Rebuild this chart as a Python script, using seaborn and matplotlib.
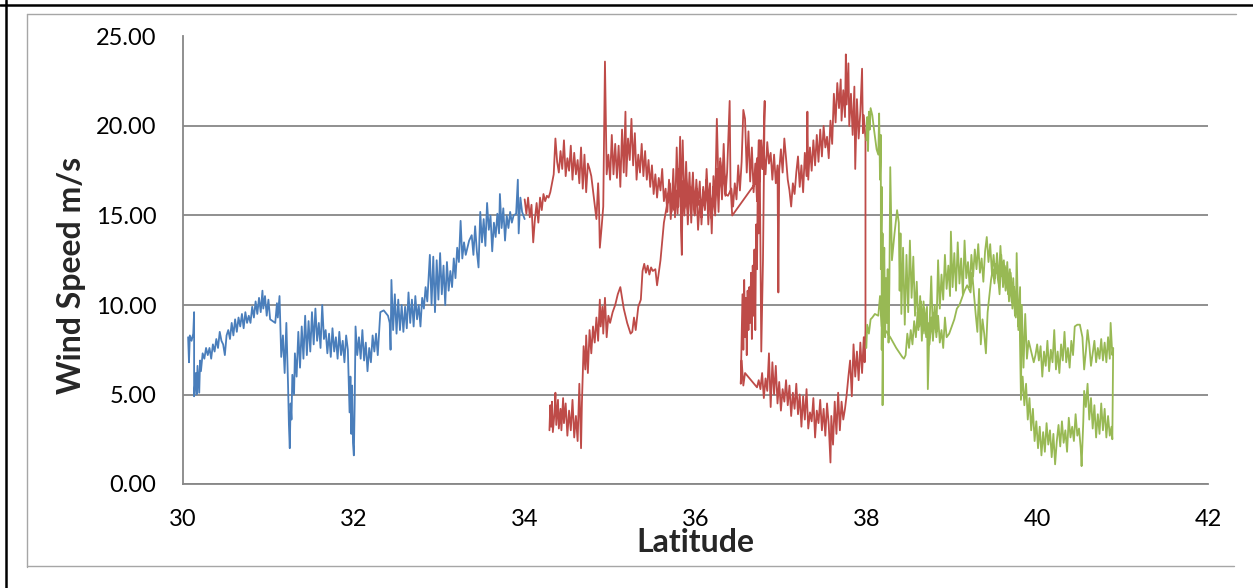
import matplotlib
matplotlib.use("Agg")
import matplotlib.pyplot as plt
import seaborn as sns
import pandas as pd
from matplotlib.lines import Line2D
from matplotlib.ticker import FormatStrFormatter

# ---------------- data (latitude, wind speed m/s), in track order ----------------
blue_track = [
    (30.06, 8.2), (30.07, 6.8), (30.08, 8.3), (30.10, 8.0), (30.12, 8.4), (30.13, 9.6), (30.13, 4.9),
    (30.15, 6.2), (30.16, 5.0), (30.17, 6.6), (30.19, 5.1), (30.20, 6.9), (30.21, 6.3), (30.23, 7.3),
    (30.25, 7.0), (30.27, 7.6), (30.29, 7.2), (30.31, 7.6), (30.33, 7.0), (30.35, 7.8), (30.37, 7.4),
    (30.39, 8.1), (30.41, 7.6), (30.43, 8.5), (30.45, 8.0), (30.47, 7.8), (30.49, 7.2), (30.51, 8.3),
    (30.53, 8.6), (30.55, 8.1), (30.57, 9.0), (30.59, 8.3), (30.61, 9.2), (30.63, 8.5), (30.65, 9.3),
    (30.67, 8.8), (30.69, 9.5), (30.71, 8.7), (30.73, 9.6), (30.75, 9.0), (30.77, 9.4), (30.79, 9.0),
    (30.81, 9.9), (30.83, 9.3), (30.85, 10.2), (30.87, 9.5), (30.89, 10.4), (30.91, 9.6), (30.93, 10.8),
    (30.94, 9.8), (30.96, 10.5), (30.98, 9.4), (31.00, 10.3), (31.02, 9.2), (31.05, 9.1), (31.08, 9.0),
    (31.10, 10.1), (31.11, 9.3), (31.13, 10.5), (31.15, 7.1), (31.17, 8.3), (31.19, 6.2), (31.21, 9.0),
    (31.23, 5.5), (31.24, 3.3), (31.25, 2.0), (31.26, 4.5), (31.27, 3.6), (31.28, 6.1), (31.30, 5.0),
    (31.31, 7.3), (31.33, 6.0), (31.35, 8.5), (31.37, 6.5), (31.39, 8.8), (31.41, 7.0), (31.43, 9.4),
    (31.45, 7.2), (31.47, 9.1), (31.49, 7.4), (31.51, 9.6), (31.53, 7.8), (31.55, 9.8), (31.57, 8.0),
    (31.59, 9.0), (31.61, 7.6), (31.63, 10.0), (31.65, 8.1), (31.67, 8.6), (31.69, 7.3), (31.71, 8.4),
    (31.73, 7.1), (31.75, 8.7), (31.77, 7.4), (31.79, 8.2), (31.81, 7.0), (31.83, 8.5), (31.85, 7.2),
    (31.87, 8.0), (31.89, 6.8), (31.91, 8.3), (31.93, 7.5), (31.95, 4.0), (31.96, 6.0), (31.97, 2.8),
    (31.98, 5.5), (31.99, 2.3), (32.00, 1.6), (32.01, 4.5), (32.02, 8.8), (32.04, 7.2), (32.06, 8.2),
    (32.08, 7.0), (32.10, 8.6), (32.12, 6.9), (32.14, 7.9), (32.16, 6.3), (32.18, 7.6), (32.20, 6.8),
    (32.22, 8.3), (32.24, 7.4), (32.26, 8.4), (32.28, 7.2), (32.31, 9.6), (32.35, 9.7), (32.40, 9.4),
    (32.42, 9.0), (32.43, 7.5), (32.44, 11.4), (32.46, 8.6), (32.48, 10.6), (32.50, 8.4), (32.52, 10.3),
    (32.54, 8.6), (32.56, 10.0), (32.58, 8.5), (32.60, 9.9), (32.62, 8.7), (32.64, 10.7), (32.66, 9.0),
    (32.68, 10.3), (32.70, 8.8), (32.72, 10.5), (32.74, 9.2), (32.76, 10.0), (32.78, 8.8), (32.80, 10.4),
    (32.82, 9.8), (32.84, 11.0), (32.86, 10.2), (32.89, 12.8), (32.91, 10.0), (32.93, 12.7), (32.95, 9.6),
    (32.97, 12.5), (32.99, 10.3), (33.01, 12.9), (33.03, 10.6), (33.05, 12.2), (33.07, 10.0), (33.09, 12.4),
    (33.11, 10.8), (33.13, 11.9), (33.15, 11.0), (33.17, 12.6), (33.19, 11.5), (33.21, 13.2), (33.23, 12.4),
    (33.25, 14.7), (33.27, 12.6), (33.29, 13.5), (33.31, 12.8), (33.35, 13.6), (33.38, 13.9), (33.40, 12.8),
    (33.42, 14.4), (33.44, 13.0), (33.46, 12.1), (33.48, 15.2), (33.50, 13.5), (33.52, 14.8), (33.54, 13.3),
    (33.56, 15.7), (33.58, 14.2), (33.60, 15.0), (33.62, 13.0), (33.64, 14.6), (33.66, 13.8), (33.68, 15.1),
    (33.70, 14.0), (33.71, 16.2), (33.73, 14.3), (33.75, 15.4), (33.77, 13.6), (33.79, 15.0), (33.81, 14.3),
    (33.83, 15.2), (33.85, 14.6), (33.87, 15.0), (33.90, 15.1), (33.92, 17.0), (33.93, 14.0), (33.95, 16.0),
    (33.97, 15.2), (34.00, 14.8),
]

red_rise = [
    (34.29, 3.0), (34.30, 4.4), (34.31, 3.2), (34.32, 4.6), (34.33, 2.9), (34.35, 4.0), (34.36, 5.1),
    (34.37, 3.3), (34.39, 4.7), (34.40, 3.1), (34.42, 4.2), (34.43, 3.0), (34.45, 4.8), (34.46, 3.4),
    (34.48, 4.5), (34.50, 2.7), (34.52, 4.1), (34.54, 3.0), (34.56, 4.7), (34.58, 2.6), (34.60, 3.8),
    (34.62, 2.4), (34.64, 5.6), (34.66, 2.0), (34.67, 4.5), (34.69, 7.7), (34.71, 6.4), (34.72, 8.3),
    (34.74, 6.2), (34.76, 8.6), (34.78, 7.3), (34.80, 8.8), (34.82, 7.9), (34.84, 9.3), (34.86, 8.0),
    (34.88, 10.3), (34.89, 8.8), (34.91, 9.9), (34.92, 8.4), (34.94, 10.4), (34.96, 8.2), (34.98, 9.4),
    (35.00, 9.0), (35.03, 9.6), (35.06, 10.0), (35.09, 10.6), (35.12, 11.0), (35.16, 9.8), (35.20, 9.0),
    (35.24, 8.4), (35.26, 8.5), (35.28, 9.3), (35.30, 8.6), (35.33, 9.9), (35.36, 10.3), (35.38, 11.9),
    (35.40, 12.3), (35.42, 11.8), (35.44, 12.2), (35.46, 11.7), (35.48, 12.1), (35.50, 11.9), (35.53, 12.0),
    (35.55, 11.1), (35.59, 12.5), (35.63, 14.6), (35.67, 15.7),
]

red_band_north = [
    (35.70, 16.8), (35.72, 15.2), (35.74, 17.6), (35.76, 14.9), (35.78, 18.8), (35.80, 15.5), (35.82, 19.4),
    (35.83, 14.2), (35.84, 12.8), (35.85, 16.9), (35.87, 15.0), (35.89, 18.0), (35.91, 15.3), (35.93, 17.4),
    (35.95, 14.6), (35.97, 16.8), (35.99, 15.1), (36.01, 17.0), (36.03, 15.6), (36.05, 16.9), (36.07, 14.5),
    (36.09, 16.4), (36.11, 15.4), (36.13, 17.6), (36.15, 15.7), (36.17, 16.8), (36.19, 14.0), (36.21, 17.2),
    (36.23, 15.8), (36.25, 20.4), (36.27, 16.5), (36.29, 18.0), (36.31, 15.9), (36.33, 17.8), (36.35, 16.1),
    (36.37, 17.4), (36.40, 21.4), (36.41, 16.6), (36.43, 15.0), (36.70, 16.8), (36.72, 18.2), (36.74, 17.0),
    (36.76, 19.0), (36.78, 17.6), (36.80, 18.6), (36.82, 17.3), (36.84, 19.1), (36.86, 17.9), (36.88, 18.5),
    (36.90, 17.0), (36.92, 18.4), (36.94, 16.8), (36.96, 17.8), (36.97, 10.7), (36.98, 17.5), (37.00, 18.7),
    (37.02, 17.4), (37.04, 19.3), (37.06, 18.2), (37.08, 17.0), (37.10, 16.4), (37.12, 15.5), (37.14, 16.8),
    (37.16, 16.2), (37.18, 17.4), (37.20, 18.3), (37.22, 16.6), (37.24, 17.8), (37.26, 16.3), (37.28, 18.5),
    (37.30, 17.2), (37.31, 20.8), (37.32, 17.0), (37.34, 18.8), (37.36, 17.5), (37.38, 19.2), (37.40, 17.8),
    (37.42, 19.5), (37.44, 18.0), (37.46, 19.8), (37.48, 18.3), (37.50, 20.0), (37.52, 18.8), (37.54, 19.4),
    (37.56, 18.2), (37.58, 20.3), (37.60, 19.0), (37.62, 21.8), (37.64, 20.2), (37.66, 22.4), (37.68, 21.0),
    (37.70, 22.6), (37.71, 20.3), (37.73, 22.0), (37.75, 20.5), (37.76, 24.0), (37.77, 21.2), (37.79, 23.5),
    (37.80, 20.0), (37.82, 21.8), (37.84, 19.5), (37.86, 22.2), (37.87, 17.6), (37.89, 21.5), (37.91, 19.3),
    (37.93, 20.8), (37.95, 23.2), (37.96, 19.6), (37.97, 20.6), (37.99, 19.3),
]

red_low_south = [
    (37.99, 8.6), (37.98, 6.8), (37.97, 8.2), (37.95, 6.2), (37.93, 7.9), (37.91, 5.8), (37.89, 7.4),
    (37.87, 6.0), (37.85, 7.8), (37.83, 4.9), (37.81, 6.9), (37.79, 6.0), (37.77, 5.0), (37.75, 4.2),
    (37.73, 3.6), (37.71, 4.6), (37.69, 3.0), (37.67, 5.1), (37.65, 2.8), (37.63, 4.6), (37.61, 2.2),
    (37.59, 3.8), (37.58, 1.2), (37.56, 3.3), (37.54, 4.5), (37.52, 2.7), (37.50, 4.2), (37.48, 3.0),
    (37.46, 4.7), (37.44, 3.4), (37.42, 4.1), (37.40, 2.6), (37.38, 4.8), (37.36, 3.5), (37.34, 4.0),
    (37.32, 3.1), (37.30, 5.3), (37.28, 3.6), (37.26, 4.9), (37.24, 3.2), (37.22, 5.0), (37.20, 3.9),
    (37.18, 5.6), (37.16, 4.2), (37.14, 5.1), (37.12, 3.8), (37.10, 5.5), (37.08, 4.4), (37.06, 5.8),
    (37.04, 4.6), (37.02, 5.3), (37.00, 4.1), (36.98, 5.7), (36.96, 4.5), (36.94, 6.6), (36.92, 5.0),
    (36.90, 6.8), (36.88, 4.3), (36.86, 7.3), (36.84, 5.2), (36.82, 5.9), (36.80, 4.8), (36.78, 6.2),
    (36.76, 5.3), (36.74, 5.8), (36.72, 5.4), (36.58, 6.2), (36.56, 5.5), (36.54, 6.9), (36.53, 5.6),
]

red_climb = [
    (36.54, 8.0), (36.55, 10.6), (36.56, 7.5), (36.57, 11.4), (36.58, 8.2), (36.59, 10.4), (36.60, 7.2),
    (36.61, 10.8), (36.62, 8.6), (36.63, 11.0), (36.64, 9.0), (36.65, 11.8), (36.66, 8.1), (36.67, 12.2),
    (36.68, 9.4), (36.69, 13.1), (36.70, 8.6), (36.71, 14.5), (36.72, 12.0), (36.73, 17.4), (36.74, 14.0),
    (36.75, 19.2), (36.77, 7.4), (36.79, 12.5), (36.81, 21.4),
]

red_band_south = [
    (36.79, 17.6), (36.77, 19.2), (36.75, 16.9), (36.74, 19.2), (36.72, 15.8), (36.70, 17.9), (36.68, 16.3),
    (36.66, 18.8), (36.64, 16.9), (36.62, 19.7), (36.60, 17.4), (36.58, 20.4), (36.56, 20.9), (36.54, 18.0),
    (36.52, 16.4), (36.50, 17.8), (36.48, 15.9), (36.46, 16.8), (36.44, 15.5), (36.42, 16.5), (36.38, 16.1),
    (36.35, 16.2), (36.33, 19.0), (36.31, 16.4), (36.29, 18.2), (36.27, 15.2), (36.25, 17.6), (36.23, 15.0),
    (36.21, 16.6), (36.19, 14.8), (36.17, 16.3), (36.15, 14.5), (36.13, 17.0), (36.11, 15.3), (36.09, 16.6),
    (36.07, 14.9), (36.05, 15.8), (36.03, 14.2), (36.01, 16.5), (35.99, 15.0), (35.97, 17.4), (35.95, 15.8),
    (35.93, 16.6), (35.91, 14.5), (35.89, 17.1), (35.87, 15.4), (35.85, 19.2), (35.83, 15.9), (35.81, 17.6),
    (35.79, 15.1), (35.77, 16.4), (35.75, 15.3), (35.73, 16.2), (35.71, 14.8), (35.69, 17.0), (35.67, 15.2),
    (35.65, 16.5), (35.63, 15.8), (35.61, 17.6), (35.59, 16.4), (35.57, 17.1), (35.55, 16.0), (35.53, 17.3),
    (35.51, 16.2), (35.49, 17.8), (35.47, 16.6), (35.45, 18.1), (35.43, 17.0), (35.41, 18.6), (35.39, 17.2),
    (35.37, 19.0), (35.35, 17.4), (35.33, 18.4), (35.31, 17.0), (35.29, 19.6), (35.27, 17.8), (35.25, 20.4),
    (35.23, 18.1), (35.21, 19.3), (35.19, 17.2), (35.18, 20.8), (35.16, 17.4), (35.14, 19.8), (35.12, 16.6),
    (35.10, 18.9), (35.08, 17.1), (35.06, 19.0), (35.04, 17.3), (35.02, 19.5), (35.00, 17.0), (34.98, 18.4),
    (34.96, 17.3), (34.94, 23.6), (34.92, 15.5), (34.90, 14.3), (34.88, 13.2), (34.87, 15.6), (34.86, 16.8),
    (34.84, 14.8), (34.82, 15.6), (34.80, 16.4), (34.78, 17.2), (34.76, 17.6), (34.74, 17.9), (34.72, 16.3),
    (34.70, 18.4), (34.68, 16.5), (34.66, 18.8), (34.64, 16.8), (34.62, 18.1), (34.60, 17.3), (34.58, 18.5),
    (34.56, 17.0), (34.54, 18.9), (34.52, 17.5), (34.50, 18.2), (34.48, 17.2), (34.46, 19.2), (34.44, 17.6),
    (34.42, 18.6), (34.40, 17.4), (34.38, 18.0), (34.36, 19.3), (34.34, 17.3), (34.32, 16.8), (34.30, 16.3),
    (34.28, 16.0), (34.26, 16.1), (34.24, 15.8), (34.22, 16.2), (34.20, 15.3), (34.18, 16.0), (34.16, 14.6),
    (34.14, 15.7), (34.12, 14.8), (34.10, 13.5), (34.08, 15.6), (34.06, 14.9), (34.04, 16.0), (34.02, 15.1),
    (34.00, 15.9),
]

green_north = [
    (38.00, 19.2), (38.01, 20.5), (38.02, 18.6), (38.03, 20.8), (38.04, 19.8), (38.05, 21.0), (38.07, 20.6),
    (38.09, 19.8), (38.12, 18.7), (38.14, 18.4), (38.15, 20.7), (38.16, 17.0), (38.17, 19.5), (38.17, 12.0),
    (38.18, 16.6), (38.18, 7.5), (38.19, 14.0), (38.19, 4.4), (38.20, 10.5), (38.21, 13.2), (38.22, 8.2),
    (38.23, 11.5), (38.24, 9.0), (38.25, 12.0), (38.26, 7.9), (38.27, 11.2), (38.28, 17.7), (38.30, 12.5),
    (38.33, 14.0), (38.36, 15.3), (38.38, 14.6), (38.39, 10.8), (38.40, 14.0), (38.41, 9.5), (38.43, 13.2),
    (38.45, 8.9), (38.47, 12.8), (38.49, 9.6), (38.51, 13.6), (38.53, 10.4), (38.55, 12.7), (38.57, 9.4),
    (38.59, 11.3), (38.61, 8.6), (38.63, 10.5), (38.65, 8.0), (38.67, 10.2), (38.69, 8.4), (38.71, 9.9),
    (38.72, 5.3), (38.74, 8.9), (38.76, 11.6), (38.78, 8.2), (38.80, 10.0), (38.82, 8.5), (38.84, 12.5),
    (38.86, 9.8), (38.88, 11.7), (38.90, 10.3), (38.92, 12.8), (38.94, 10.9), (38.96, 12.2), (38.98, 10.5),
    (38.99, 14.1), (39.01, 11.0), (39.03, 12.9), (39.05, 10.8), (39.07, 13.5), (39.09, 11.2), (39.11, 12.6),
    (39.13, 10.6), (39.15, 13.6), (39.17, 11.5), (39.19, 12.4), (39.21, 11.0), (39.23, 12.8), (39.25, 11.6),
    (39.27, 13.1), (39.29, 12.0), (39.31, 13.4), (39.33, 11.8), (39.35, 12.6), (39.37, 11.3), (39.39, 13.0),
    (39.41, 13.8), (39.43, 12.4), (39.45, 13.4), (39.47, 11.8), (39.49, 12.8), (39.51, 11.5), (39.53, 12.9),
    (39.55, 11.2), (39.57, 13.3), (39.59, 11.6), (39.61, 12.5), (39.63, 10.8), (39.65, 12.4), (39.67, 10.2),
    (39.69, 11.8), (39.71, 9.8), (39.73, 11.0), (39.75, 9.3), (39.76, 12.9), (39.78, 8.6), (39.80, 9.8),
    (39.81, 4.7), (39.83, 6.0), (39.85, 4.4), (39.87, 5.6), (39.89, 3.6), (39.91, 4.8), (39.93, 3.0),
    (39.95, 4.2), (39.97, 2.4), (39.99, 3.5), (40.01, 2.0), (40.03, 3.2), (40.05, 1.6), (40.07, 2.9),
    (40.09, 1.8), (40.11, 3.4), (40.13, 2.2), (40.15, 3.0), (40.17, 1.5), (40.19, 2.8), (40.21, 1.1),
    (40.23, 2.4), (40.25, 3.3), (40.27, 2.1), (40.29, 3.5), (40.31, 2.3), (40.33, 3.0), (40.35, 1.8),
    (40.37, 3.7), (40.39, 2.6), (40.41, 3.2), (40.43, 2.4), (40.45, 3.9), (40.47, 2.7), (40.49, 3.1),
    (40.51, 2.0), (40.52, 1.0), (40.54, 3.5), (40.55, 5.2), (40.57, 4.3), (40.59, 5.6), (40.61, 3.6),
    (40.63, 4.8), (40.65, 3.1), (40.67, 4.4), (40.69, 2.6), (40.71, 3.9), (40.73, 2.8), (40.75, 4.5),
    (40.77, 3.0), (40.79, 4.2), (40.81, 2.6), (40.83, 3.8), (40.85, 2.7), (40.87, 3.2), (40.88, 2.5),
    (40.89, 7.6),
]

green_south = [
    (40.88, 7.2), (40.86, 9.0), (40.85, 7.0), (40.83, 8.2), (40.81, 6.8), (40.79, 7.9), (40.77, 6.9),
    (40.75, 8.1), (40.73, 7.0), (40.71, 7.6), (40.69, 6.8), (40.67, 8.0), (40.65, 7.3), (40.63, 6.6),
    (40.61, 7.8), (40.59, 8.6), (40.57, 7.4), (40.55, 6.4), (40.53, 8.2), (40.50, 8.9), (40.47, 8.9),
    (40.44, 8.8), (40.42, 7.2), (40.40, 8.0), (40.38, 6.5), (40.36, 7.6), (40.34, 6.8), (40.32, 8.5),
    (40.30, 6.9), (40.28, 7.8), (40.26, 6.2), (40.24, 7.4), (40.22, 6.4), (40.20, 8.6), (40.18, 6.8),
    (40.16, 7.5), (40.14, 6.3), (40.12, 8.0), (40.10, 6.6), (40.08, 7.4), (40.06, 6.0), (40.04, 7.7),
    (40.02, 6.9), (40.00, 7.8), (39.98, 7.2), (39.96, 6.8), (39.93, 7.4), (39.90, 8.0), (39.88, 7.0),
    (39.86, 9.5), (39.84, 6.5), (39.82, 10.0), (39.81, 4.8), (39.80, 11.0), (39.78, 8.8), (39.76, 10.5),
    (39.74, 9.4), (39.72, 11.5), (39.70, 10.2), (39.68, 12.0), (39.66, 10.6), (39.64, 11.6), (39.62, 12.2),
    (39.60, 11.0), (39.58, 12.8), (39.56, 10.6), (39.54, 11.7), (39.52, 12.3), (39.50, 11.2), (39.48, 12.0),
    (39.46, 11.4), (39.44, 10.5), (39.42, 9.6), (39.40, 7.3), (39.38, 8.4), (39.36, 9.2), (39.34, 7.8),
    (39.32, 10.9), (39.30, 8.5), (39.28, 9.5), (39.26, 10.6), (39.24, 11.8), (39.22, 10.7), (39.18, 11.1),
    (39.15, 10.8), (39.12, 10.4), (39.09, 10.0), (39.06, 9.8), (39.03, 9.2), (39.00, 8.8), (38.97, 8.4),
    (38.94, 8.2), (38.92, 9.3), (38.90, 7.6), (38.88, 8.6), (38.86, 7.9), (38.84, 9.4), (38.82, 8.2),
    (38.80, 9.6), (38.78, 8.0), (38.76, 9.3), (38.74, 7.8), (38.72, 9.0), (38.70, 8.2), (38.68, 9.8),
    (38.66, 8.4), (38.64, 10.2), (38.62, 8.8), (38.60, 9.6), (38.58, 8.2), (38.56, 9.1), (38.54, 7.8),
    (38.52, 8.6), (38.50, 7.6), (38.48, 8.4), (38.46, 7.2), (38.44, 7.0), (38.42, 7.1), (38.35, 7.6),
    (38.28, 8.2), (38.22, 8.6), (38.20, 9.9), (38.18, 8.8), (38.16, 10.5), (38.14, 9.4), (38.10, 9.5),
    (38.07, 9.3), (38.05, 9.2), (38.03, 8.4), (38.01, 8.9), (38.00, 7.6),
]

x_ticks = [30, 32, 34, 36, 38, 40, 42]
y_ticks = [0, 5, 10, 15, 20, 25]
x_label = "Latitude"
y_label = "Wind Speed m/s"

# ---------------- build long table ----------------
series_tracks = [
    ("Blue", [blue_track]),
    ("Red", [red_rise, red_band_north, red_low_south, red_climb, red_band_south]),
    ("Green", [green_north, green_south]),
]
rows = []
for name, parts in series_tracks:
    order = 0
    for part in parts:
        for lat, ws in part:
            rows.append({"series": name, "lat": lat, "ws": ws, "order": order})
            order += 1
df = pd.DataFrame(rows)

palette = {"Blue": "#4A7EBB", "Red": "#BE4B48", "Green": "#98B954"}

# ---------------- figure ----------------
sns.set_style("white")
plt.rcParams["font.family"] = ["Lato", "DejaVu Sans"]

W, H = 1253, 588
fig = plt.figure(figsize=(W / 100, H / 100), dpi=100)
ax = fig.add_axes([183 / W, 1 - 484 / H, 1025 / W, 447.5 / H])

sns.lineplot(data=df, x="lat", y="ws", hue="series", palette=palette,
             sort=False, estimator=None, legend=False, linewidth=1.3, ax=ax)

grid_c = "#878787"
ax.set_xlim(30, 42)
ax.set_ylim(0, 25)
ax.set_xticks(x_ticks)
ax.set_yticks(y_ticks)
ax.yaxis.set_major_formatter(FormatStrFormatter("%.2f"))
ax.yaxis.grid(True, color=grid_c, linewidth=1.3)
ax.xaxis.grid(False)
ax.set_axisbelow(True)
for s in ["top", "right"]:
    ax.spines[s].set_visible(False)
for s in ["left", "bottom"]:
    ax.spines[s].set_color(grid_c)
    ax.spines[s].set_linewidth(1.3)
ax.tick_params(axis="both", direction="out", length=7, width=1.3, color=grid_c,
               labelsize=17, labelcolor="black")
ax.tick_params(axis="y", pad=12)
ax.tick_params(axis="x", pad=11)

ax.set_xlabel(x_label, fontsize=23, fontweight="bold")
ax.set_ylabel(y_label, fontsize=23, fontweight="bold")
ax.xaxis.set_label_coords(0.5, -0.098)
ax.yaxis.set_label_coords(-0.095, 0.467)

# chart-area frame (gray) and outer border (black)
def fline(x0, y0, x1, y1, c, lw):
    fig.add_artist(Line2D([x0 / W, x1 / W], [1 - y0 / H, 1 - y1 / H], color=c, lw=lw,
                          transform=fig.transFigure))

fline(27, 14, 1236, 14, "#A6A6A6", 1.0)
fline(27, 14, 27, 567, "#A6A6A6", 1.0)
fline(27, 566, 1234, 566, "#A6A6A6", 1.0)
fline(0, 4.5, W, 4.5, "black", 1.8)
fline(6, 0, 6, H, "black", 1.8)

fig.savefig("out.png", dpi=100)
